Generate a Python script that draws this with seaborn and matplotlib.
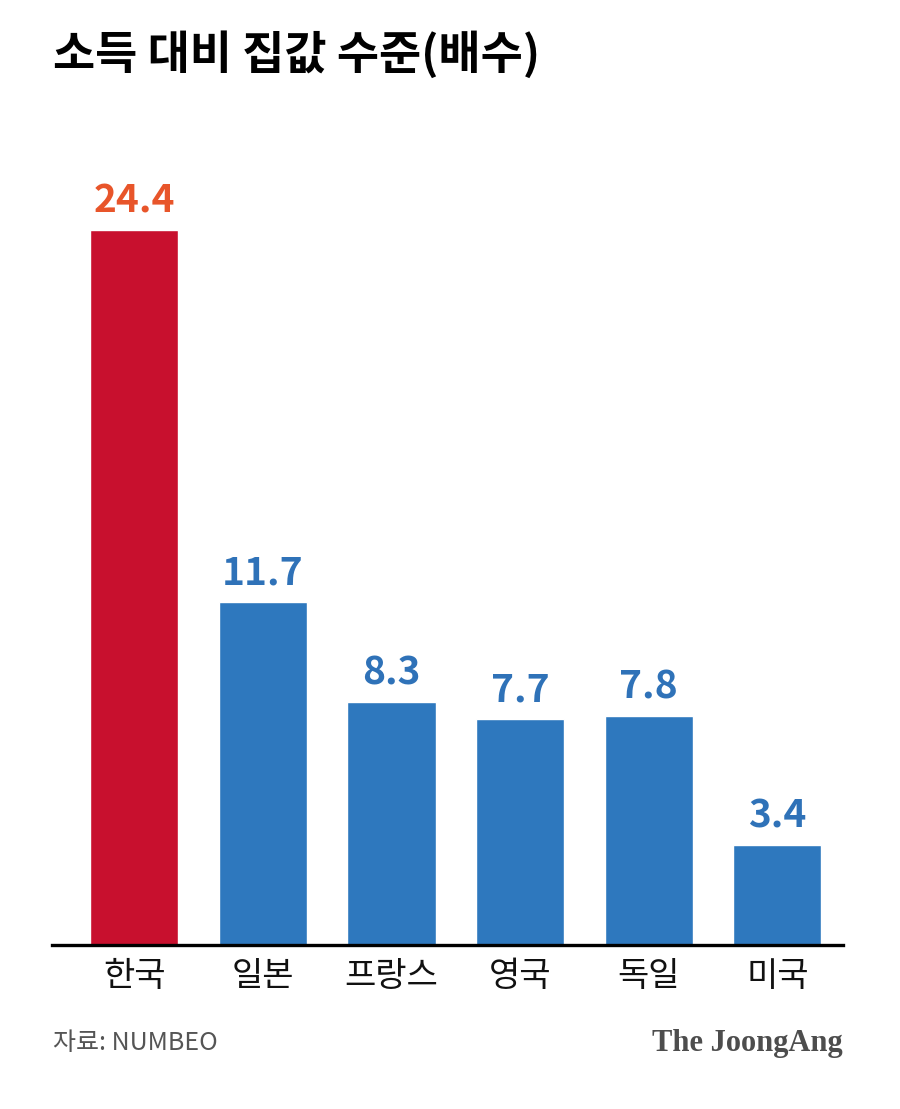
import matplotlib
matplotlib.use("Agg")
import matplotlib.pyplot as plt
import seaborn as sns
import pandas as pd

sns.set_theme(style="white")
plt.rcParams['font.family'] = ['Noto Sans CJK KR', 'DejaVu Sans']

countries = ['한국', '일본', '프랑스', '영국', '독일', '미국']
ratios = [24.4, 11.7, 8.3, 7.7, 7.8, 3.4]
bar_colors = ['#c8102e', '#2e78be', '#2e78be', '#2e78be', '#2e78be', '#2e78be']
label_colors = ['#e8552a', '#2f72b8', '#2f72b8', '#2f72b8', '#2f72b8', '#2f72b8']

df = pd.DataFrame({'country': countries, 'ratio': ratios})

fig = plt.figure(figsize=(9, 11.09), dpi=100)
ax = fig.add_axes([52 / 900, 164 / 1109, 791 / 900, 762 / 1109])

sns.barplot(data=df, x='country', y='ratio', hue='country', palette=bar_colors,
            width=0.685, legend=False, ax=ax, saturation=1)

for i, v in enumerate(ratios):
    ax.text(i, v + 0.33, f"{v}", ha='center', va='bottom', fontsize=28,
            fontweight='black', color=label_colors[i])

ax.set_xlim(-0.64, 5.51)
ax.set_ylim(0, 26)
ax.set_yticks([])
ax.set_xlabel('')
ax.set_ylabel('')
for s in ['top', 'right', 'left']:
    ax.spines[s].set_visible(False)
ax.spines['bottom'].set_color('black')
ax.spines['bottom'].set_linewidth(2.4)
ax.tick_params(axis='x', length=0, pad=10, labelsize=24.5, colors='#111111')

fig.text(53 / 900, 1 - 55 / 1109, '소득 대비 집값 수준(배수)', fontsize=33,
         fontweight='black', color='black', va='center', ha='left')
fig.text(53 / 900, 1 - 1043 / 1109, '자료: NUMBEO', fontsize=18,
         color='#555555', va='center', ha='left')
fig.text(843 / 900, 1 - 1044 / 1109, 'The JoongAng', fontsize=22,
         fontweight='bold', color='#4d4d4d', va='center', ha='right',
         family=['Liberation Serif', 'DejaVu Serif'])

fig.savefig('out.png', dpi=100, facecolor='white')
